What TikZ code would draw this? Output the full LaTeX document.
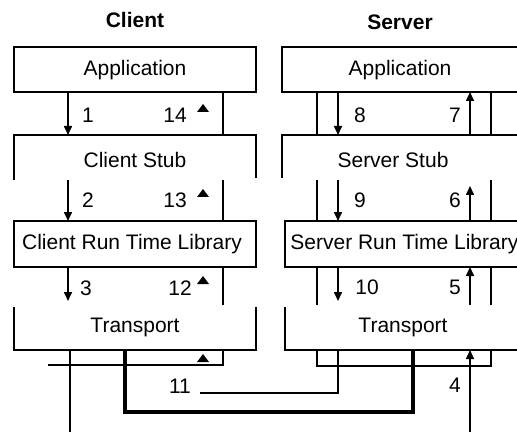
\documentclass[tikz,border=0pt]{standalone}
\usepackage{fontspec}
\setmainfont{Liberation Sans}
\usetikzlibrary{arrows.meta}

\begin{document}
\begin{tikzpicture}[x=0.5pt,y=-0.5pt,
  wire/.style={line width=0.8pt},
  bus/.style={line width=2pt},
  flow/.style={wire,-{Triangle[length=4.5pt,width=4pt]}},
  lbl/.style={font=\fontsize{10.5}{12}\selectfont},
  head/.style={font=\bfseries\fontsize{10.5}{12}\selectfont}]
\useasboundingbox (0,0) rectangle (517,432);
\clip (0,0) rectangle (517,432);
% headings
\node[head] (chead) at (135,20) {Client};
\node[head] (shead) at (400,22) {Server};
% client boxes
\draw[wire] (14,47) rectangle (256,92);
\node[lbl] (capp) at (135,70) {Application};
\draw[wire] (14,180) -- (14,135) -- (256,135) -- (256,178);
\node[lbl] (cstub) at (135,160) {Client Stub};
\draw[wire] (14,221) rectangle (256,267);
\node[lbl] (crtl) at (132,244) {Client Run Time Library};
\draw[wire] (14,307) -- (14,350) -- (256,350) -- (256,307);
\node[lbl] (ctrans) at (135,327) {Transport};
% client side lines
\draw[wire] (223,92) to (223,135);
\draw[wire] (223,180) to (223,221);
\draw[wire] (223,267) to (223,305);
\draw[wire] (48,365) -- (223,365) -- (223,350);
% client arrows down
\draw[flow] (68,92) to (68,135);
\draw[flow] (68,180) to (68,221);
\draw[flow] (68,267) to (68,301);
% client arrows up (tips only)
\foreach \y in {108,193,280,358}
  \fill (197,\y+4) -- (209,\y+4) -- (203,\y-4) -- cycle;
\node[lbl] (n1) at (88,115) {1};
\node[lbl] (n14) at (175,115) {14};
\node[lbl] (n2) at (88,200) {2};
\node[lbl] (n13) at (175,200) {13};
\node[lbl] (n3) at (86,288) {3};
\node[lbl] (n12) at (180,288) {12};
% server boxes
\draw[wire] (282,47) rectangle (518,92);
\node[lbl] (sapp) at (400,70) {Application};
\draw[wire] (282,178) -- (282,135) -- (520,135);
\node[lbl] (sstub) at (393,160) {Server Stub};
\draw[wire] (285,221) rectangle (520,267);
\node[lbl,anchor=west,inner sep=0pt] (srtl) at (290,244) {Server Run Time Library};
\draw[wire] (285,307) -- (285,350) -- (520,350);
\node[lbl] (strans) at (403,327) {Transport};
% server side lines
\foreach \x in {317,491} {
  \draw[wire] (\x,92) to (\x,135);
  \draw[wire] (\x,180) to (\x,221);
  \draw[wire] (\x,267) to (\x,305);
}
\draw[wire] (317,350) -- (317,366) -- (491,366) -- (491,350);
% server arrows
\draw[flow] (338,92) to (338,135);
\draw[flow] (338,180) to (338,221);
\draw[flow] (338,267) to (338,301);
\draw[flow] (470,135) to (470,92);
\draw[flow] (470,221) to (470,186);
\draw[flow] (470,305) to (470,267);
\node[lbl] (n8) at (360,115) {8};
\node[lbl] (n7) at (455,115) {7};
\node[lbl] (n9) at (360,200) {9};
\node[lbl] (n6) at (455,200) {6};
\node[lbl] (n10) at (367,287) {10};
\node[lbl] (n5) at (455,287) {5};
% network below
\draw[wire] (70,350) to (70,432);
\draw[bus] (125,350) -- (125,412) -- (413,412) -- (413,350);
\node[lbl] (n11) at (180,386) {11};
\draw[wire] (200,393) -- (338,393) -- (338,350);
\draw[flow] (470,432) to (470,350);
\node[lbl] (n4) at (455,385) {4};
\end{tikzpicture}
\end{document}
